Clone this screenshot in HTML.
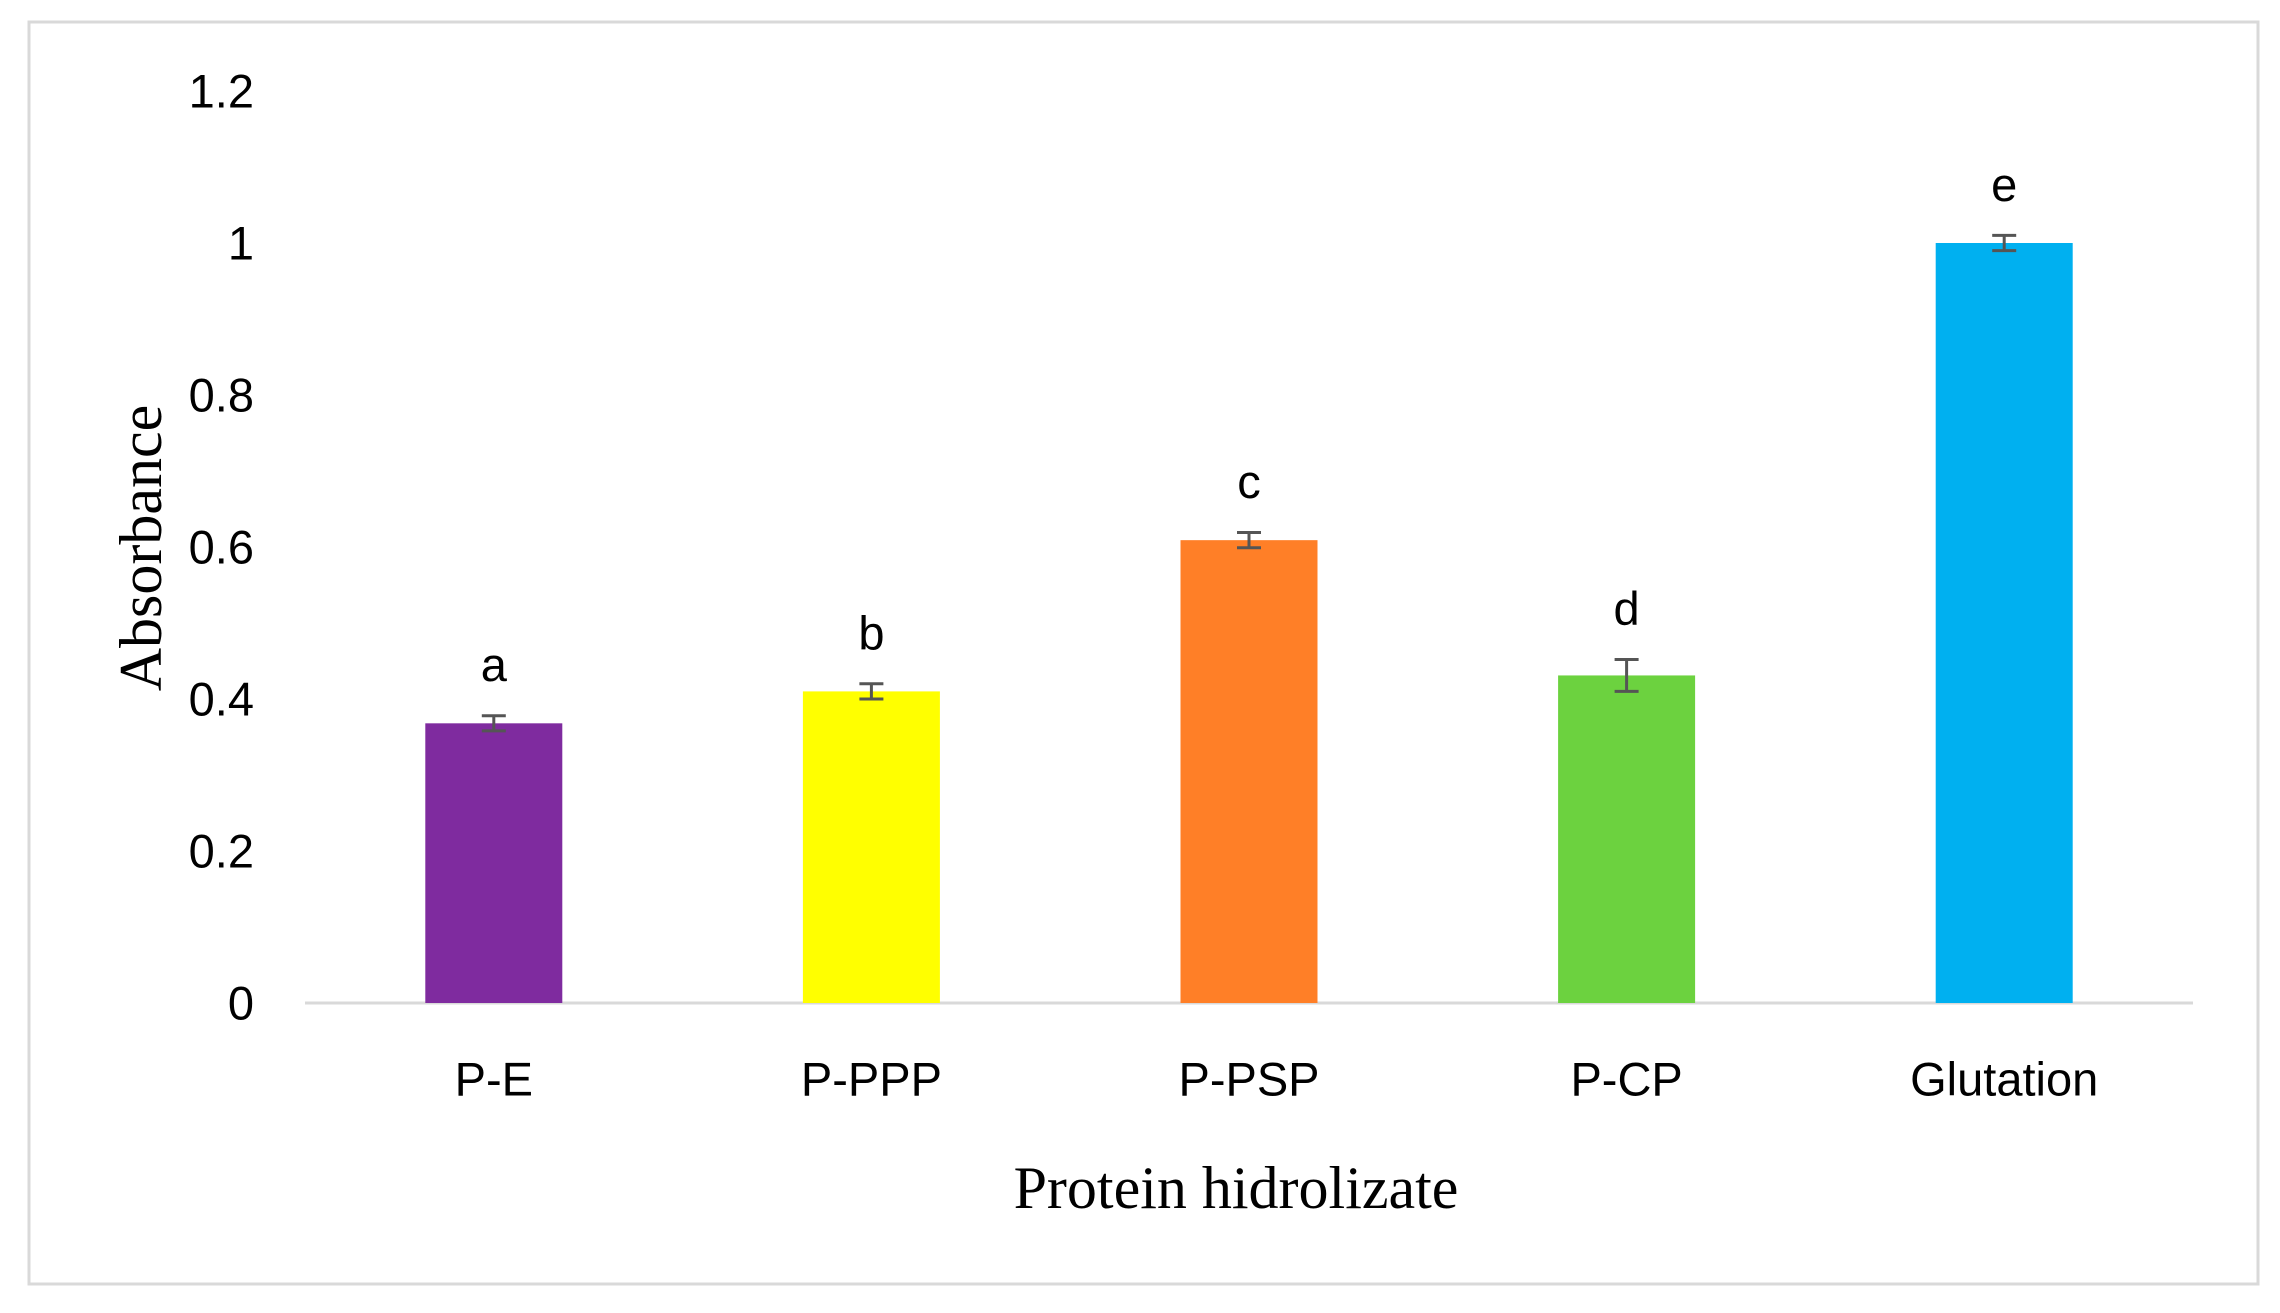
<!DOCTYPE html>
<html><head><meta charset="utf-8"><style>
html,body{margin:0;padding:0;background:#fff;}
svg{display:block;}
</style></head><body>
<svg id="chart" width="2280" height="1313" viewBox="0 0 2280 1313" xmlns="http://www.w3.org/2000/svg">
<rect x="29" y="22" width="2229" height="1262" fill="#fff" stroke="#d9d9d9" stroke-width="3"/>
<g id="yticks"></g>
<line x1="305" y1="1003" x2="2193" y2="1003" stroke="#d9d9d9" stroke-width="3"/>
<g id="bars"></g>
<text x="141" y="548" transform="rotate(-90 141 548)" text-anchor="middle" dominant-baseline="central" font-family="Liberation Serif, serif" font-size="60" fill="#000">Absorbance</text>
<text x="1236" y="1188" text-anchor="middle" dominant-baseline="central" font-family="Liberation Serif, serif" font-size="60" fill="#000">Protein hidrolizate</text>
</svg>
<script>
const categories = ["P-E","P-PPP","P-PSP","P-CP","Glutation"];
const values = [0.368,0.41,0.609,0.431,1.0];
const errors = [0.01,0.01,0.01,0.021,0.01];
const letters = ["a","b","c","d","e"];
const colors = ["#7f2b9f","#ffff00","#ff7f27","#6cd23f","#00b0f0"];
const yTicks = [0,0.2,0.4,0.6,0.8,1,1.2];
const yTickLabels = ["0","0.2","0.4","0.6","0.8","1","1.2"];

const NS="http://www.w3.org/2000/svg";
const x0=305,x1=2193,y0=1003,yPerUnit=760;
const band=(x1-x0)/categories.length, barW=137;
function yScale(v){return y0-v*yPerUnit;}
function xCenter(i){return x0+band*(i+0.5);}
function mk(tag,attrs,parent){const e=document.createElementNS(NS,tag);for(const k in attrs)e.setAttribute(k,attrs[k]);parent.appendChild(e);return e;}
const font="Liberation Sans, sans-serif";
const fs=47;
const yt=document.getElementById('yticks');
yTicks.forEach((t,i)=>{
  const tx=mk('text',{x:254,y:yScale(t),'text-anchor':'end','dominant-baseline':'central','font-family':font,'font-size':fs,fill:'#000'},yt);
  
  
  tx.textContent=yTickLabels[i];
});
const bg=document.getElementById('bars');
categories.forEach((c,i)=>{
  const cx=xCenter(i), v=values[i], e=errors[i];
  const r=mk('rect',{x:cx-barW/2,y:yScale(v),width:barW,height:y0-yScale(v),fill:colors[i]},bg);
  
  
  const eb=mk('path',{d:`M${cx-12},${yScale(v+e)}H${cx+12}M${cx},${yScale(v+e)}V${yScale(v-e)}M${cx-12},${yScale(v-e)}H${cx+12}`,stroke:'#555',fill:'none','stroke-width':3},bg);
  
  
  const lt=mk('text',{x:cx,y:yScale(v+e)-51,'text-anchor':'middle','dominant-baseline':'central','font-family':font,'font-size':fs,fill:'#000'},bg);
  
  
  lt.textContent=letters[i];
  const cl=mk('text',{x:cx,y:1079,'text-anchor':'middle','dominant-baseline':'central','font-family':font,'font-size':fs,fill:'#000'},bg);
  
  
  cl.textContent=c;
});
</script>
</body></html>
